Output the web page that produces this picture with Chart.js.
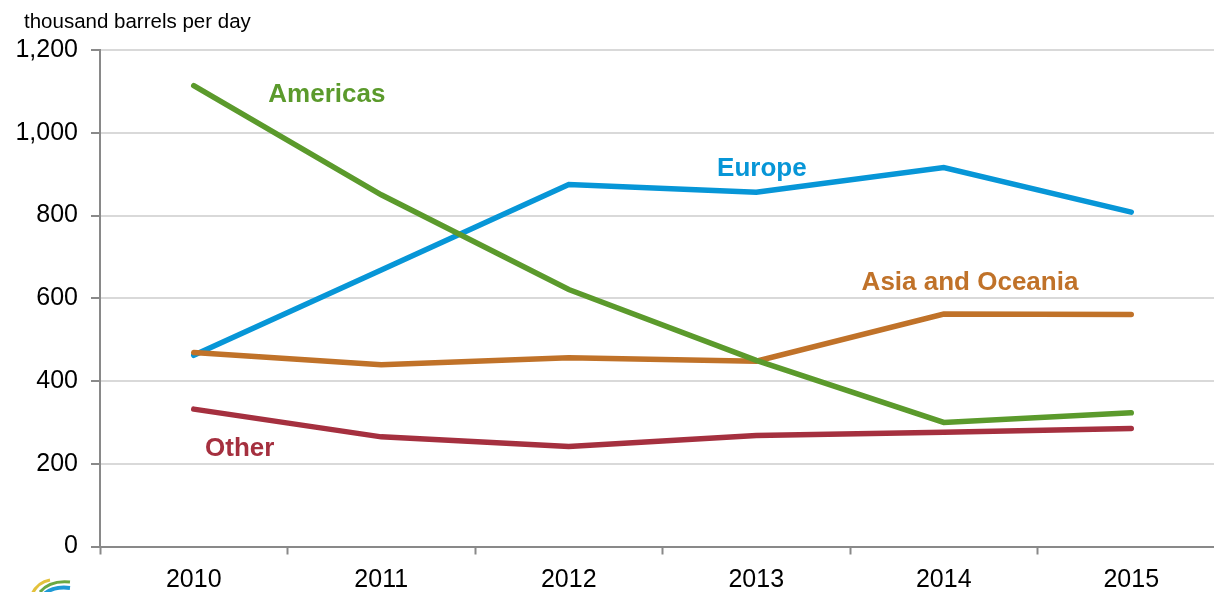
<!DOCTYPE html>
<html>
<head>
<meta charset="utf-8">
<script src="https://cdn.jsdelivr.net/npm/chart.js@4/dist/chart.umd.min.js"></script>
<style>
  html, body { margin: 0; padding: 0; background: #fff; overflow: hidden; width: 1214px; height: 592px; }
  #wrap { position: absolute; left: 0; top: 0; width: 1240px; height: 592px; }
  #unit { position: absolute; left: 24px; top: 9px; font: 20.5px "Liberation Sans", Arial, sans-serif; color: #000; }
  #logo { position: absolute; left: 26px; top: 574px; }
</style>
</head>
<body>
<div id="wrap"><canvas id="c" width="1240" height="592"></canvas></div>
<div id="unit">thousand barrels per day</div>
<svg id="logo" width="60" height="20" viewBox="0 0 60 20">
  <path d="M6 20 Q12 8 24 6" stroke="#e3c13b" stroke-width="3" fill="none"/>
  <path d="M14 18 Q24 6 44 8" stroke="#6aa843" stroke-width="3" fill="none"/>
  <path d="M18 20 Q28 12 44 14" stroke="#1e9ad6" stroke-width="4" fill="none"/>
</svg>
<script>
const years = ['2010', '2011', '2012', '2013', '2014', '2015'];
const americas = [1114, 850, 621, 450, 300, 323];
const asiaOceania = [469, 439, 456, 448, 562, 561];
const europe = [462, 668, 875, 856, 916, 808];
const other = [332, 265, 242, 268, 276, 285];
const yTicks = [0, 200, 400, 600, 800, 1000, 1200];

const seriesNames = ['Americas', 'Asia and Oceania', 'Europe', 'Other'];
const seriesColors = ['#5b9a2c', '#c07229', '#0796d7', '#a5303f'];
// label anchors in data space: [category index, value]
const labelX = [0.71, 4.14, 3.03, 0.245];
const labelY = [1091, 637, 912, 235];

const labelPlugin = {
  id: 'seriesLabels',
  afterDatasetsDraw(chart) {
    const ctx = chart.ctx;
    const xs = chart.scales.x, ys = chart.scales.y;
    ctx.save();
    ctx.font = 'bold 26px "Liberation Sans", Arial, sans-serif';
    ctx.textAlign = 'center';
    ctx.textBaseline = 'middle';
    seriesNames.forEach((n, i) => {
      const x0 = xs.getPixelForValue(0), x1 = xs.getPixelForValue(1);
      const px = x0 + (x1 - x0) * labelX[i];
      const py = ys.getPixelForValue(labelY[i]);
      ctx.fillStyle = seriesColors[i];
      ctx.fillText(n, px, py);
    });
    ctx.restore();
  }
};

const dataArrays = [americas, asiaOceania, europe, other];

new Chart(document.getElementById('c'), {
  type: 'line',
  data: {
    labels: years,
    datasets: dataArrays.map((d, i) => ({
      label: seriesNames[i],
      data: d,
      borderColor: seriesColors[i],
      backgroundColor: seriesColors[i],
      borderWidth: 5.5,
      pointRadius: 0,
      tension: 0,
      borderCapStyle: 'round',
      fill: false
    }))
  },
  options: {
    responsive: false,
    animation: false,
    devicePixelRatio: 1,
    layout: { padding: { top: 50, right: 15, left: 0, bottom: 0 } },
    plugins: { legend: { display: false }, title: { display: false }, tooltip: { enabled: false } },
    scales: {
      x: {
        offset: true,
        grid: { offset: true, drawOnChartArea: false, drawTicks: true, tickLength: 8, tickColor: '#898989', tickWidth: 2 },
        border: { color: '#898989', width: 2 },
        ticks: { color: '#000', font: { size: 25, family: '"Liberation Sans", Arial, sans-serif' }, padding: 11, maxRotation: 0 },
        afterFit(s) { s.height = 45.5; }
      },
      y: {
        min: 0, max: 1200,
        afterBuildTicks(s) { s.ticks = yTicks.map(v => ({ value: v })); },
        grid: { color: '#d9d9d9', lineWidth: 2, drawTicks: true, tickLength: 9, tickColor: '#898989', tickWidth: 2 },
        border: { color: '#898989', width: 2 },
        ticks: {
          color: '#000', font: { size: 25, family: '"Liberation Sans", Arial, sans-serif' }, padding: 13,
          callback: v => v.toLocaleString('en-US')
        },
        afterFit(s) { s.width = 100; }
      }
    }
  },
  plugins: [labelPlugin]
});
</script>
</body>
</html>
